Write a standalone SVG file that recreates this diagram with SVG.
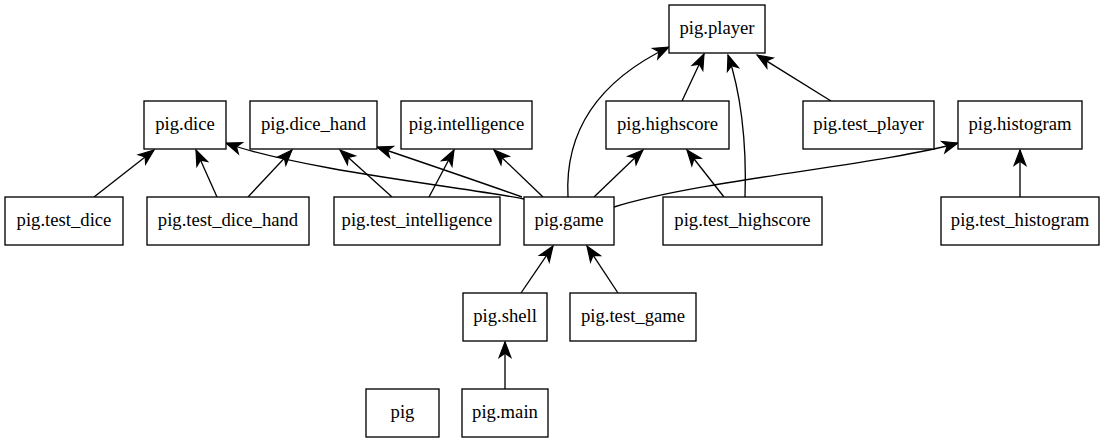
<svg xmlns="http://www.w3.org/2000/svg" width="1105" height="443" viewBox="0 0 1105 443">
<defs>
<style>
.node rect{fill:#fff;stroke:#000;stroke-width:1.33}
.node text{font-family:'Liberation Serif','Times New Roman',serif;font-size:18.67px;text-anchor:middle;fill:#000}
.edges path{fill:none;stroke:#000;stroke-width:1.33;marker-end:url(#vee)}
</style>
<marker id="vee" markerUnits="userSpaceOnUse" orient="auto" refX="0" refY="0" markerWidth="20" markerHeight="20" viewBox="-15 -8 17 16" overflow="visible">
<path d="M0,0 L-13,-5 L-9.5,0 L-13,5 Z" fill="#000" stroke="#000" stroke-width="1"/>
</marker>
</defs>
<rect width="1105" height="443" fill="#fff"/>
<g class="edges">
<path d="M94,197 L154,150"/>
<path d="M217,197 L196,150"/>
<path d="M248,197 L292,150"/>
<path d="M392,197 L340,150"/>
<path d="M429,197 L454,150"/>
<path d="M524,199 C470,188 300,170 226,143"/>
<path d="M522,197 C480,182 430,165 377,147"/>
<path d="M543,197 L494,150"/>
<path d="M568,197 C565,140 590,85 669,47"/>
<path d="M594,197 L643,150"/>
<path d="M614,207 C700,180 880,165 958,143"/>
<path d="M682,101 L704,54"/>
<path d="M724,197 L687,150"/>
<path d="M745,197 C747,140 740,90 728,55"/>
<path d="M831,101 L757,55"/>
<path d="M1020,197 L1020,150"/>
<path d="M521,293 L553,246"/>
<path d="M618,293 L587,246"/>
<path d="M505,389 L505,342"/>
</g>
<g id="pig.player" class="node"><rect x="669" y="5" width="96" height="48"/><text x="717" y="34" font-family="Liberation Serif, Times New Roman, serif">pig.player</text></g>
<g id="pig.dice" class="node"><rect x="144" y="101" width="82" height="48"/><text x="185" y="130" font-family="Liberation Serif, Times New Roman, serif">pig.dice</text></g>
<g id="pig.dice_hand" class="node"><rect x="250" y="101" width="127" height="48"/><text x="313.5" y="130" font-family="Liberation Serif, Times New Roman, serif">pig.dice_hand</text></g>
<g id="pig.intelligence" class="node"><rect x="401" y="101" width="131" height="48"/><text x="466.5" y="130" font-family="Liberation Serif, Times New Roman, serif">pig.intelligence</text></g>
<g id="pig.highscore" class="node"><rect x="606" y="101" width="123" height="48"/><text x="667.5" y="130" font-family="Liberation Serif, Times New Roman, serif">pig.highscore</text></g>
<g id="pig.test_player" class="node"><rect x="803" y="101" width="131" height="48"/><text x="868.5" y="130" font-family="Liberation Serif, Times New Roman, serif">pig.test_player</text></g>
<g id="pig.histogram" class="node"><rect x="958" y="101" width="124" height="48"/><text x="1020" y="130" font-family="Liberation Serif, Times New Roman, serif">pig.histogram</text></g>
<g id="pig.test_dice" class="node"><rect x="5" y="197" width="118" height="48"/><text x="64" y="226" font-family="Liberation Serif, Times New Roman, serif">pig.test_dice</text></g>
<g id="pig.test_dice_hand" class="node"><rect x="147" y="197" width="162" height="48"/><text x="228" y="226" font-family="Liberation Serif, Times New Roman, serif">pig.test_dice_hand</text></g>
<g id="pig.test_intelligence" class="node"><rect x="334" y="197" width="166" height="48"/><text x="417" y="226" font-family="Liberation Serif, Times New Roman, serif">pig.test_intelligence</text></g>
<g id="pig.game" class="node"><rect x="524" y="197" width="90" height="48"/><text x="569" y="226" font-family="Liberation Serif, Times New Roman, serif">pig.game</text></g>
<g id="pig.test_highscore" class="node"><rect x="663" y="197" width="159" height="48"/><text x="742.5" y="226" font-family="Liberation Serif, Times New Roman, serif">pig.test_highscore</text></g>
<g id="pig.test_histogram" class="node"><rect x="941" y="197" width="158" height="48"/><text x="1020" y="226" font-family="Liberation Serif, Times New Roman, serif">pig.test_histogram</text></g>
<g id="pig.shell" class="node"><rect x="463" y="293" width="84" height="48"/><text x="505" y="322" font-family="Liberation Serif, Times New Roman, serif">pig.shell</text></g>
<g id="pig.test_game" class="node"><rect x="570" y="293" width="126" height="48"/><text x="633" y="322" font-family="Liberation Serif, Times New Roman, serif">pig.test_game</text></g>
<g id="pig" class="node"><rect x="366" y="389" width="73" height="48"/><text x="402.5" y="418" font-family="Liberation Serif, Times New Roman, serif">pig</text></g>
<g id="pig.main" class="node"><rect x="462" y="389" width="86" height="48"/><text x="505" y="418" font-family="Liberation Serif, Times New Roman, serif">pig.main</text></g>
</svg>
